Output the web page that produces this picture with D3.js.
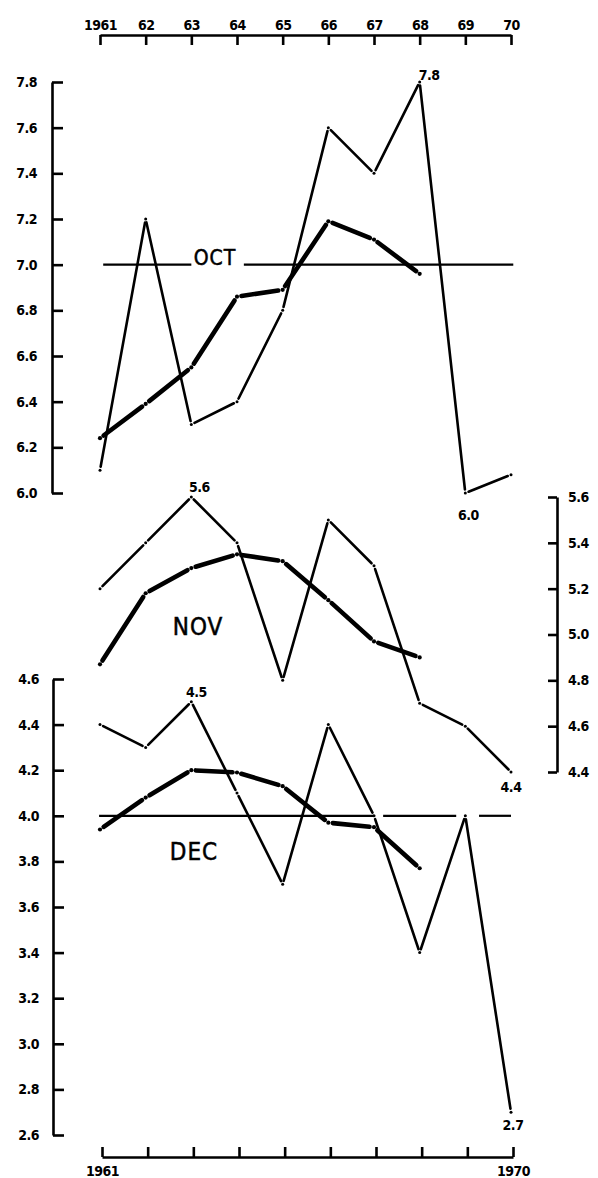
<!DOCTYPE html>
<html><head><meta charset="utf-8">
<script src="https://cdn.jsdelivr.net/npm/d3@7"></script>
<style>
html,body{margin:0;padding:0;background:#fff;}
svg{display:block;}
.tk text{font-family:"DejaVu Sans Condensed","DejaVu Sans",sans-serif;font-stretch:condensed;font-weight:bold;font-size:14px;letter-spacing:-0.5px;fill:#000;}
.tk path,.tk line{stroke:#000;stroke-width:2.6px;}
.val{font-family:"DejaVu Sans Condensed","DejaVu Sans",sans-serif;font-stretch:condensed;font-weight:bold;font-size:14px;letter-spacing:-0.5px;}
.mon{font-family:"DejaVu Sans Condensed","DejaVu Sans",sans-serif;font-stretch:condensed;font-weight:normal;stroke:#000;stroke-width:0.5px;}
</style></head>
<body>
<svg id="c" width="598" height="1178"></svg>
<script>
// ---- data ----
const years = [1961,1962,1963,1964,1965,1966,1967,1968,1969,1970];
const meanYears = [1961,1962,1963,1964,1965,1966,1967,1968];
const topYearLabels = ["1961","62","63","64","65","66","67","68","69","70"];
const bottomYearLabels = ["1961","1970"];

const octYearly = [6.1,7.2,6.3,6.4,6.8,7.6,7.4,7.8,6.0,6.08];
const octMean   = [6.24,6.39,6.55,6.86,6.89,7.19,7.11,6.96];
const novYearly = [5.2,5.4,5.6,5.4,4.8,5.5,5.3,4.7,4.6,4.4];
const novMean   = [4.87,5.18,5.29,5.35,5.32,5.15,4.97,4.90];
const decYearly = [4.4,4.3,4.5,4.1,3.7,4.4,4.0,3.4,4.0,2.7];
const decMean   = [3.94,4.08,4.2,4.19,4.13,3.97,3.95,3.77];

const octTicks = [6.0,6.2,6.4,6.6,6.8,7.0,7.2,7.4,7.6,7.8];
const novTicks = [4.4,4.6,4.8,5.0,5.2,5.4,5.6];
const decTicks = [2.6,2.8,3.0,3.2,3.4,3.6,3.8,4.0,4.2,4.4,4.6];
const octRef = 7.0, decRef = 4.0;

// ---- scales ----
const svg = d3.select("#c");
const x  = d3.scaleLinear().domain([1961,1970]).range([100,511]);
const xb = d3.scaleLinear().domain([1961,1970]).range([102,513]);
const yOct = d3.scaleLinear().domain([6.0,7.8]).range([493,82]);
const yNov = d3.scaleLinear().domain([4.4,5.6]).range([772,497]);
const yDec = d3.scaleLinear().domain([2.6,4.6]).range([1135,679]);
const f1 = d3.format(".1f");

// ---- axes ----
svg.append("g").attr("class","tk").attr("transform","translate(0,35)")
  .call(d3.axisTop(x).tickValues(years).tickFormat((d,i)=>topYearLabels[i])
        .tickSizeInner(-10).tickSizeOuter(0).tickPadding(5));
svg.append("g").attr("class","tk").attr("transform","translate(0,1157)")
  .call(d3.axisBottom(xb).tickValues(years)
        .tickFormat(d=> d===1961?bottomYearLabels[0]:(d===1970?bottomYearLabels[1]:""))
        .tickSizeInner(-10).tickSizeOuter(0).tickPadding(9));
svg.append("g").attr("class","tk").attr("transform","translate(52,0)")
  .call(d3.axisLeft(yOct).tickValues(octTicks).tickFormat(f1)
        .tickSizeInner(-11).tickSizeOuter(0).tickPadding(15));
svg.append("g").attr("class","tk").attr("transform","translate(53,0)")
  .call(d3.axisLeft(yDec).tickValues(decTicks).tickFormat(f1)
        .tickSizeInner(-11).tickSizeOuter(0).tickPadding(14));
svg.append("g").attr("class","tk").attr("transform","translate(557,0)")
  .call(d3.axisRight(yNov).tickValues(novTicks).tickFormat(f1)
        .tickSizeInner(-9).tickSizeOuter(0).tickPadding(11));

// ---- reference lines ----
const line = d3.line();
function refSeg(y0, v, a, b){
  svg.append("path").attr("d", line([[x(a), y0(v)],[x(b), y0(v)]]))
    .attr("stroke","#000").attr("stroke-width",2.2).attr("fill","none");
}
refSeg(yOct, octRef, 1961.07, 1963.0);
refSeg(yOct, octRef, 1964.15, 1970.05);
refSeg(yDec, decRef, 1960.98, 1967.0);
refSeg(yDec, decRef, 1967.2, 1968.8);
refSeg(yDec, decRef, 1969.3, 1970.0);

// ---- series with gaps at data points ----
function series(xs, vals, ys, w, gap, r){
  const pts = xs.map((yr,i)=>[x(yr), ys(vals[i])]);
  const g = svg.append("g");
  for(let i=0;i<pts.length-1;i++){
    const [x0,y0]=pts[i],[x1,y1]=pts[i+1];
    const L=Math.hypot(x1-x0,y1-y0), ux=(x1-x0)/L, uy=(y1-y0)/L;
    g.append("path").attr("d", line([[x0+ux*gap,y0+uy*gap],[x1-ux*gap,y1-uy*gap]]))
      .attr("stroke","#000").attr("stroke-width",w).attr("fill","none").attr("stroke-linecap","round");
  }
  g.selectAll("circle").data(pts).join("circle")
    .attr("cx",d=>d[0]).attr("cy",d=>d[1]).attr("r",r).attr("fill","#000");
}
series(years, octYearly, yOct, 2.6, 3.5, 1.5);
series(meanYears, octMean, yOct, 4.6, 4.5, 2.1);
series(years, novYearly, yNov, 2.6, 3.5, 1.5);
series(meanYears, novMean, yNov, 4.6, 4.5, 2.1);
series(years, decYearly, yDec, 2.6, 3.5, 1.5);
series(meanYears, decMean, yDec, 4.6, 4.5, 2.1);

// ---- value labels ----
function val(t, xv, yv, dx, dy, anchor){
  svg.append("text").attr("class","val").attr("x", x(xv)+dx).attr("y", yv+dy)
    .attr("text-anchor", anchor||"middle").text(t);
}
val(f1(octYearly[7]), 1968, yOct(octYearly[7]), -1, -2, "start");
val(f1(novYearly[2]), 1963, yNov(novYearly[2]), 8, -5);
val(f1(octYearly[8]), 1969, yOct(octYearly[8]), 3, 27);
val(f1(decYearly[2]), 1963, yDec(decYearly[2]), 5, -5);
val(f1(novYearly[9]), 1970, yNov(novYearly[9]), 0, 20);
val(f1(decYearly[9]), 1970, yDec(decYearly[9]), 2, 18);

// ---- month labels ----
svg.append("text").attr("class","mon").attr("x",215).attr("y",yOct(octRef)).attr("font-size",21)
  .attr("letter-spacing",1).attr("text-anchor","middle").text("OCT");
svg.append("text").attr("class","mon").attr("x",198).attr("y",635).attr("font-size",24)
  .attr("letter-spacing",1).attr("text-anchor","middle").text("NOV");
svg.append("text").attr("class","mon").attr("x",194).attr("y",860).attr("font-size",24)
  .attr("letter-spacing",1).attr("text-anchor","middle").text("DEC");
</script>
</body></html>
